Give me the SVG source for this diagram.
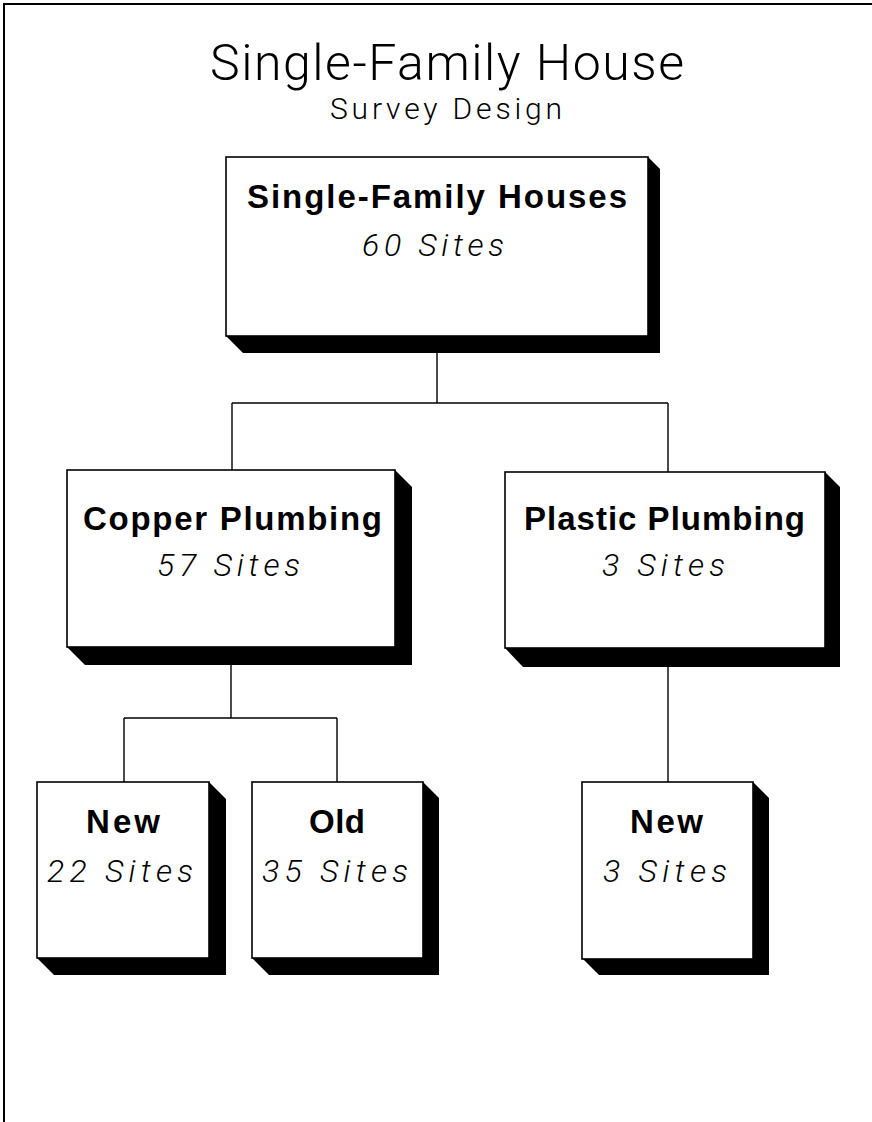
<svg xmlns="http://www.w3.org/2000/svg" width="872" height="1122" viewBox="0 0 872 1122">
<style>
.frame{fill:none;stroke:#000;stroke-width:2}
.box{fill:#fff;stroke:#000;stroke-width:1.6}
.shadow{fill:#000;stroke:none}
.conn{fill:none;stroke:#000;stroke-width:1.4}
.title{font-family:Roboto,"Liberation Sans",sans-serif;font-weight:300;fill:#000}
.bold{font-family:"Liberation Sans",Arial,sans-serif;font-weight:bold;fill:#000}
.ital{font-family:Roboto,"Liberation Sans",sans-serif;font-weight:300;font-style:italic;fill:#000}
</style>
<rect width="872" height="1122" fill="#fff"/>
<path class="frame" d="M4,1122 V4 H872"/>
<g id="title">
<text class="title" x="210" y="80" font-size="50" textLength="474" lengthAdjust="spacing">Single-Family House</text>
<text class="title" x="330" y="119" font-size="30" textLength="232" lengthAdjust="spacing">Survey Design</text>
</g>
<g id="connectors">
<path class="conn" d="M437,353 V403 M232,403 H668 M232,403 V470 M668,403 V472"/>
<path class="conn" d="M231,665 V718 M124,718 H337 M124,718 V782 M337,718 V782"/>
<path class="conn" d="M668,667 V782"/>
</g>
<g id="node-houses">
<polygon class="shadow" points="648,157 660,169 660,353 243,353 226,336"/>
<rect class="box" x="226" y="157" width="422" height="179"/>
<text class="bold" x="247" y="208" font-size="33" textLength="380" lengthAdjust="spacing">Single-Family Houses</text>
<text class="ital" x="362" y="256" font-size="32" textLength="142" lengthAdjust="spacing">60 Sites</text>
</g>
<g id="node-copper">
<polygon class="shadow" points="395,470 412,487 412,665 85,665 67,647"/>
<rect class="box" x="67" y="470" width="328" height="177"/>
<text class="bold" x="83" y="530" font-size="33" textLength="299" lengthAdjust="spacing">Copper Plumbing</text>
<text class="ital" x="157" y="576" font-size="32" textLength="143" lengthAdjust="spacing">57 Sites</text>
</g>
<g id="node-plastic">
<polygon class="shadow" points="825,472 840,487 840,667 523,667 505,648"/>
<rect class="box" x="505" y="472" width="320" height="176"/>
<text class="bold" x="524" y="530" font-size="33" textLength="281" lengthAdjust="spacing">Plastic Plumbing</text>
<text class="ital" x="602" y="576" font-size="32" textLength="123" lengthAdjust="spacing">3 Sites</text>
</g>
<g id="node-copper-new">
<polygon class="shadow" points="209,782 226,799 226,975 54,975 37,958"/>
<rect class="box" x="37" y="782" width="172" height="176"/>
<text class="bold" x="86" y="833" font-size="33" textLength="74" lengthAdjust="spacing">New</text>
<text class="ital" x="47" y="882" font-size="32" textLength="146" lengthAdjust="spacing">22 Sites</text>
</g>
<g id="node-copper-old">
<polygon class="shadow" points="423,782 439,798 439,975 269,975 252,958"/>
<rect class="box" x="252" y="782" width="171" height="176"/>
<text class="bold" x="309" y="833" font-size="33" textLength="56" lengthAdjust="spacing">Old</text>
<text class="ital" x="262" y="882" font-size="32" textLength="146" lengthAdjust="spacing">35 Sites</text>
</g>
<g id="node-plastic-new">
<polygon class="shadow" points="753,782 769,798 769,975 599,975 582,958"/>
<rect class="box" x="582" y="782" width="171" height="177"/>
<text class="bold" x="630" y="833" font-size="33" textLength="73" lengthAdjust="spacing">New</text>
<text class="ital" x="603" y="882" font-size="32" textLength="124" lengthAdjust="spacing">3 Sites</text>
</g>
</svg>
